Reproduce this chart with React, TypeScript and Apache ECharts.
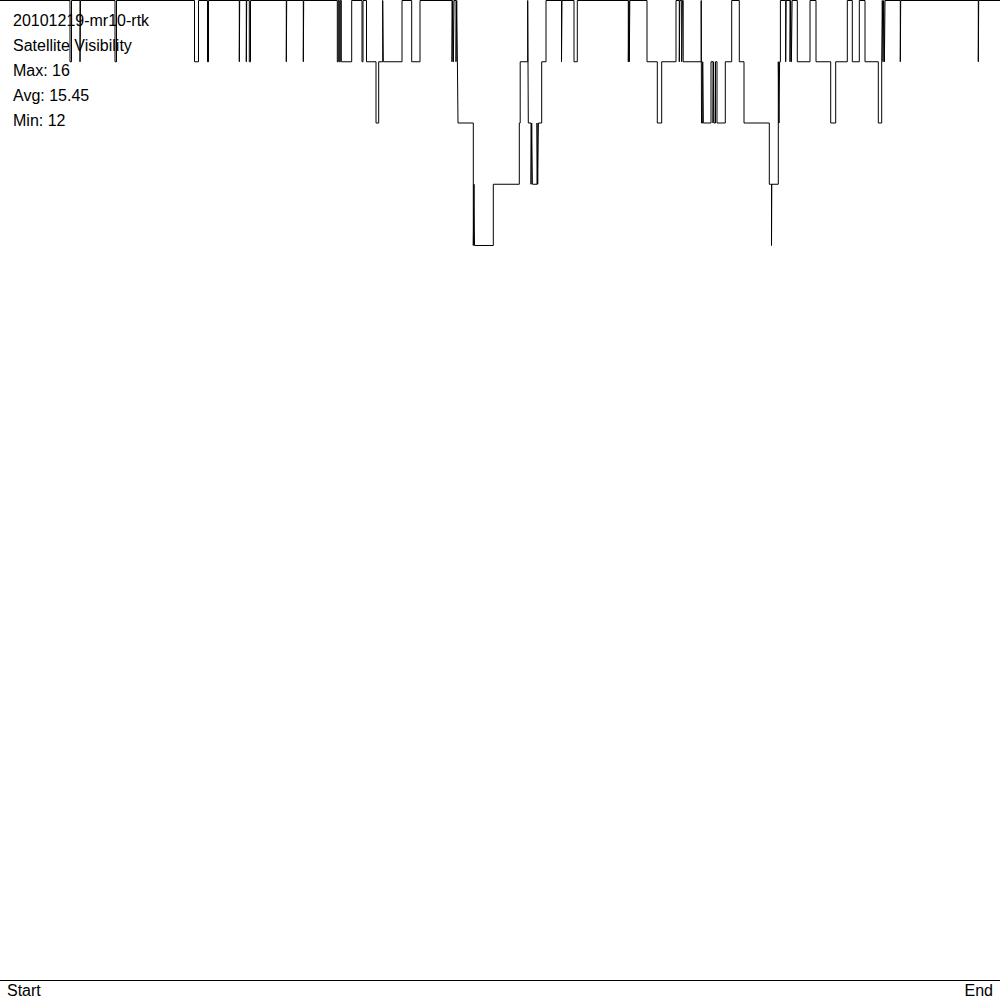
import React, { useEffect, useRef } from "react";
import * as echarts from "echarts";

// Step change points: level holds from stepX[i] until stepX[i+1]
const stepX: number[] = [
  0, 70, 71.5, 80, 80.5, 115, 116.5, 194.5, 198.5, 207.5, 208.5, 239.3, 239.7,
  246.3, 246.7, 249.3, 250.5, 286.3, 286.7, 303.3, 303.7, 337.3, 338.3, 339.3,
  340.3, 341.3, 351.7, 362, 363, 366.5, 376, 378.7, 382.7, 383.3, 402, 411.7,
  420, 452, 452.7, 453.4, 454, 456, 456.7, 457.4, 458, 473.3, 474, 474.5, 493.3,
  519.3, 520.2, 527.7, 528.3, 531, 531.7, 532.4, 537, 537.7, 538.4, 541.7, 546,
  561.5, 562, 574, 577.3, 628.3, 629, 629.3, 629.8, 647, 657.3, 661.7, 676,
  679.3, 679.8, 681.7, 682.4, 683.2, 701.2, 701.5, 702.7, 703.3, 711, 713,
  713.6, 714, 715.5, 717, 725.3, 731.7, 739.3, 744, 769.3, 771.5, 771.8, 778.3,
  779, 779.6, 780.4, 785.7, 786.1, 790, 790.7, 791.4, 792.1, 797.3, 810, 816,
  830.7, 835.7, 847.3, 852.3, 859.3, 865, 878.3, 881.7, 882.3, 883, 883.7,
  884.4, 885, 900.3, 900.7, 978.3, 978.7, 1000,
];
const stepLevel: number[] = [
  16, 15, 16, 15, 16, 15, 16, 15, 16, 15, 16, 15, 16,
  15, 16, 15, 16, 15, 16, 15, 16, 15, 16, 15,
  16, 15, 16, 15, 16, 15, 14, 15, 16, 15, 16, 15,
  16, 15, 16, 15, 16, 15, 16, 15, 14, 12, 13, 12, 13,
  14, 15, 16, 14, 13, 14, 13, 14, 13, 14, 15, 16,
  15, 16, 15, 16, 15, 16, 15, 16, 15, 14, 15, 16,
  15, 16, 15, 16, 15, 16, 14, 15, 14, 15, 14,
  15, 14, 15, 14, 15, 16, 15, 14, 13, 12, 13, 15,
  14, 15, 16, 15, 16, 15, 16, 15, 16, 15, 16, 15,
  14, 15, 16, 15, 16, 15, 14, 15, 16, 15, 16,
  15, 16, 15, 16, 15, 16, 16,
];

const titleLines: string[] = [
  "20101219-mr10-rtk",
  "Satellite Visibility",
  "Max: 16",
  "Avg: 15.45",
  "Min: 12",
];
const axisLabels: string[] = ["Start", "End"];
const yMin = 0;
const yMax = 16;

const FONT = "16px 'Liberation Sans', Arial, sans-serif";

export default function App() {
  const ref = useRef<HTMLDivElement>(null);
  useEffect(() => {
    if (!ref.current) return;
    const chart = echarts.init(ref.current, undefined, { renderer: "svg" });
    const data = stepX.map((x, i) => [x, stepLevel[i]]);
    const texts: any[] = titleLines.map((t, i) => ({
      type: "text",
      x: 13,
      y: 20.5 + i * 25,
      z: 10,
      style: {
        text: t,
        font: FONT,
        fill: "#000",
        align: "left",
        verticalAlign: "middle",
      },
    }));
    texts.push({
      type: "text",
      x: 7,
      y: 990.5,
      style: { text: axisLabels[0], font: FONT, fill: "#000", align: "left", verticalAlign: "middle" },
    });
    texts.push({
      type: "text",
      x: 993,
      y: 990.5,
      style: { text: axisLabels[1], font: FONT, fill: "#000", align: "right", verticalAlign: "middle" },
    });
    chart.setOption({
      animation: false,
      backgroundColor: "#fff",
      grid: { left: 0, right: 0, top: 0.5, bottom: 19.5, containLabel: false },
      xAxis: {
        type: "value",
        min: 0,
        max: 1000,
        axisLine: { show: true, onZero: false, lineStyle: { color: "#000", width: 1 } },
        axisTick: { show: false },
        axisLabel: { show: false },
        splitLine: { show: false },
      },
      yAxis: {
        type: "value",
        min: yMin,
        max: yMax,
        show: false,
        splitLine: { show: false },
      },
      series: [
        {
          type: "line",
          step: "end",
          data,
          showSymbol: false,
          symbol: "none",
          clip: false,
          lineStyle: { color: "#000", width: 1 },
        },
      ],
      graphic: texts,
    });
    return () => chart.dispose();
  }, []);
  return (
    <div
      ref={ref}
      style={{ position: "fixed", left: 0, top: 0, width: 1000, height: 1000, background: "#fff" }}
    />
  );
}
